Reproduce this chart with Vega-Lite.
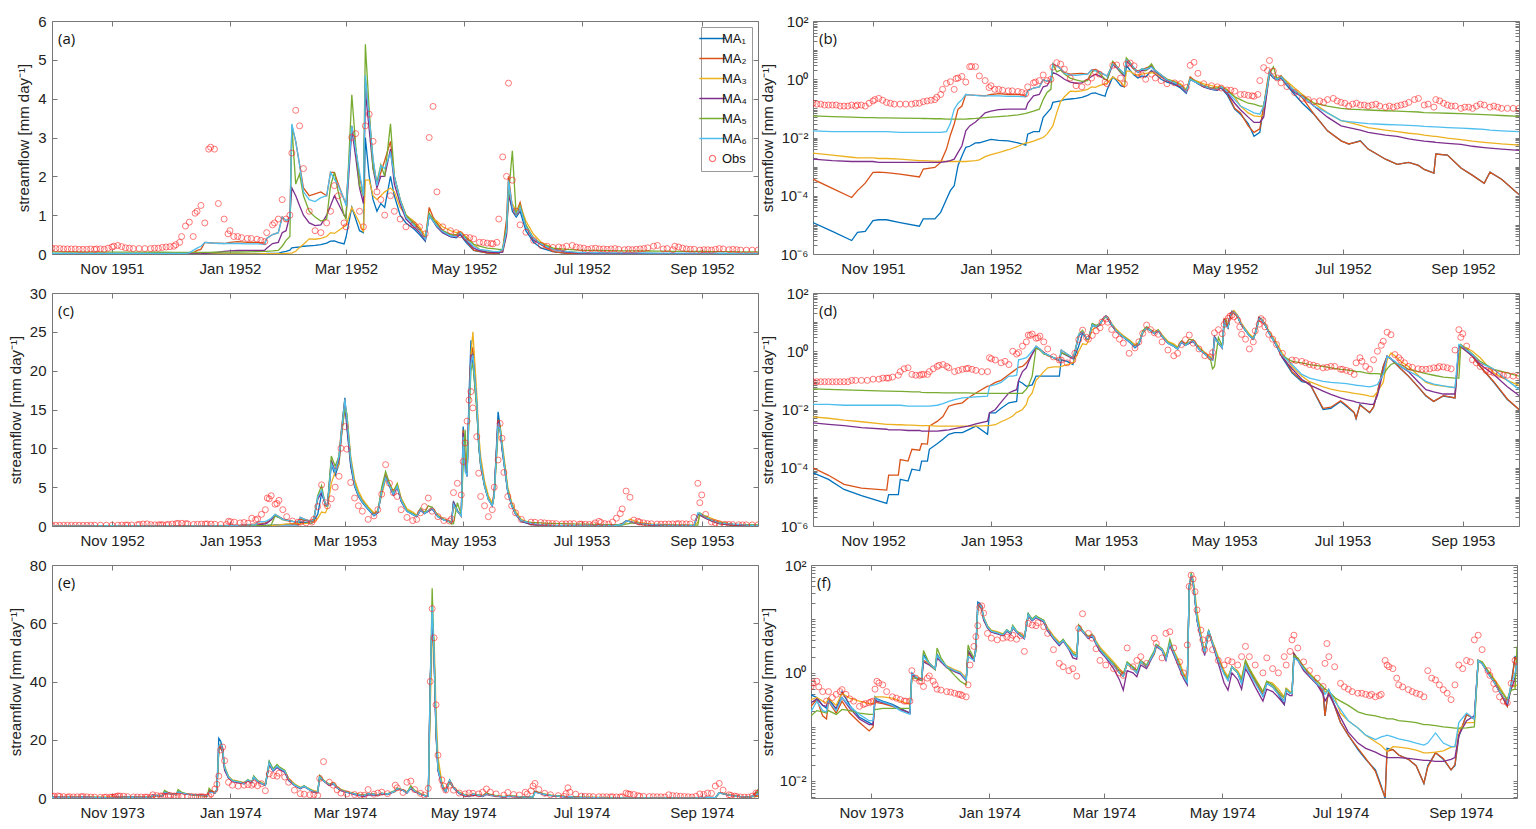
{
"$schema":"https://vega.github.io/schema/vega-lite/v6.json",
"background":"white",
"padding":{"left":8,"top":14,"right":5,"bottom":5},
"spacing":10,
"resolve":{"scale":{"color":"independent"}},
"datasets":{
"A":[
{"t":"1951-10-01","m1":1.2e-5,"m2":3.7e-4,"m3":0.0029,"m4":0.0018,"m5":0.055,"m6":0.017,"o":0.15},
{"t":"1951-10-11","m1":6e-6,"m2":1.8e-4,"m3":0.0025,"m4":0.0016,"m5":0.052,"m6":0.016,"o":0.13},
{"t":"1951-10-21","m1":2.9e-6,"m2":8.7e-5,"m3":0.0021,"m4":0.0015,"m5":0.05,"m6":0.016,"o":0.13},
{"t":"1951-10-24","m1":5.5e-6,"m2":1.5e-4,"m3":0.002,"m4":0.0015,"m5":0.049,"m6":0.016,"o":0.13},
{"t":"1951-10-28","m1":6e-6,"m2":2.7e-4,"m3":0.002,"m4":0.0015,"m5":0.048,"m6":0.016,"o":0.12},
{"t":"1951-11-01","m1":1.4e-5,"m2":6.4e-4,"m3":0.002,"m4":0.0015,"m5":0.048,"m6":0.016,"o":0.18},
{"t":"1951-11-04","m1":1.5e-5,"m2":6.5e-4,"m3":0.0019,"m4":0.0014,"m5":0.047,"m6":0.016,"o":0.22},
{"t":"1951-11-08","m1":1.5e-5,"m2":6.2e-4,"m3":0.0019,"m4":0.0014,"m5":0.047,"m6":0.016,"o":0.16},
{"t":"1951-11-15","m1":1.2e-5,"m2":5.5e-4,"m3":0.0018,"m4":0.0014,"m5":0.046,"m6":0.015,"o":0.14},
{"t":"1951-11-25","m1":9e-6,"m2":4.4e-4,"m3":0.0016,"m4":0.0014,"m5":0.045,"m6":0.015,"o":0.15},
{"t":"1951-11-27","m1":1.6e-5,"m2":8.3e-4,"m3":0.0016,"m4":0.0014,"m5":0.045,"m6":0.015,"o":0.17},
{"t":"1951-12-03","m1":1.6e-5,"m2":9.4e-4,"m3":0.00155,"m4":0.0014,"m5":0.044,"m6":0.015,"o":0.2},
{"t":"1951-12-06","m1":2.7e-5,"m2":0.0014,"m3":0.00155,"m4":0.0014,"m5":0.044,"m6":0.015,"o":0.3},
{"t":"1951-12-09","m1":7.6e-5,"m2":0.004,"m3":0.0015,"m4":0.0015,"m5":0.043,"m6":0.016,"o":0.72},
{"t":"1951-12-11","m1":1.5e-4,"m2":0.012,"m3":0.0015,"m4":0.0016,"m5":0.043,"m6":0.03,"o":0.82},
{"t":"1951-12-13","m1":2.2e-4,"m2":0.029,"m3":0.0015,"m4":0.0018,"m5":0.043,"m6":0.094,"o":0.45},
{"t":"1951-12-15","m1":0.0011,"m2":0.094,"m3":0.0015,"m4":0.0031,"m5":0.043,"m6":0.15,"o":1.1},
{"t":"1951-12-17","m1":0.0023,"m2":0.12,"m3":0.0015,"m4":0.0052,"m5":0.043,"m6":0.2,"o":1.25},
{"t":"1951-12-19","m1":0.0046,"m2":0.3,"m3":0.0015,"m4":0.017,"m5":0.043,"m6":0.3,"o":0.8},
{"t":"1951-12-21","m1":0.005,"m2":0.29,"m3":0.00155,"m4":0.025,"m5":0.044,"m6":0.29,"o":2.7},
{"t":"1951-12-24","m1":0.0065,"m2":0.28,"m3":0.0016,"m4":0.034,"m5":0.045,"m6":0.28,"o":2.7},
{"t":"1951-12-26","m1":0.0066,"m2":0.28,"m3":0.0017,"m4":0.045,"m5":0.046,"m6":0.27,"o":1.3},
{"t":"1951-12-29","m1":0.0075,"m2":0.27,"m3":0.0022,"m4":0.07,"m5":0.048,"m6":0.27,"o":0.9},
{"t":"1952-01-01","m1":0.0086,"m2":0.3,"m3":0.0026,"m4":0.08,"m5":0.05,"m6":0.27,"o":0.6},
{"t":"1952-01-05","m1":0.008,"m2":0.32,"m3":0.003,"m4":0.09,"m5":0.052,"m6":0.27,"o":0.45},
{"t":"1952-01-10","m1":0.0077,"m2":0.3,"m3":0.0038,"m4":0.094,"m5":0.055,"m6":0.26,"o":0.4},
{"t":"1952-01-15","m1":0.0065,"m2":0.3,"m3":0.005,"m4":0.094,"m5":0.06,"m6":0.26,"o":0.38},
{"t":"1952-01-19","m1":0.0055,"m2":0.28,"m3":0.0065,"m4":0.095,"m5":0.067,"m6":0.25,"o":0.32},
{"t":"1952-01-20","m1":0.013,"m2":0.4,"m3":0.0066,"m4":0.15,"m5":0.07,"m6":0.4,"o":0.55},
{"t":"1952-01-23","m1":0.016,"m2":0.5,"m3":0.0075,"m4":0.27,"m5":0.08,"m6":0.5,"o":0.75},
{"t":"1952-01-26","m1":0.016,"m2":0.55,"m3":0.009,"m4":0.3,"m5":0.094,"m6":0.55,"o":0.9},
{"t":"1952-01-28","m1":0.049,"m2":0.95,"m3":0.01,"m4":0.55,"m5":0.2,"m6":0.95,"o":1.4},
{"t":"1952-01-30","m1":0.07,"m2":0.85,"m3":0.013,"m4":0.6,"m5":0.35,"m6":0.86,"o":0.9},
{"t":"1952-02-01","m1":0.1,"m2":0.95,"m3":0.02,"m4":1.0,"m5":0.45,"m6":0.9,"o":1.0},
{"t":"1952-02-02","m1":0.16,"m2":3.3,"m3":0.025,"m4":1.7,"m5":3.3,"m6":3.35,"o":2.6},
{"t":"1952-02-04","m1":0.17,"m2":2.9,"m3":0.07,"m4":1.5,"m5":1.8,"m6":2.9,"o":3.7},
{"t":"1952-02-06","m1":0.18,"m2":2.3,"m3":0.17,"m4":1.24,"m5":2.06,"m6":2.3,"o":3.3},
{"t":"1952-02-08","m1":0.2,"m2":1.7,"m3":0.25,"m4":1.0,"m5":1.5,"m6":1.6,"o":2.2},
{"t":"1952-02-11","m1":0.21,"m2":1.5,"m3":0.39,"m4":0.8,"m5":1.1,"m6":1.4,"o":1.1},
{"t":"1952-02-14","m1":0.22,"m2":1.55,"m3":0.38,"m4":0.73,"m5":0.95,"m6":1.35,"o":0.6},
{"t":"1952-02-17","m1":0.24,"m2":1.6,"m3":0.4,"m4":0.75,"m5":0.85,"m6":1.45,"o":0.55},
{"t":"1952-02-20","m1":0.28,"m2":1.5,"m3":0.45,"m4":1.0,"m5":0.9,"m6":1.5,"o":0.8},
{"t":"1952-02-22","m1":0.33,"m2":2.1,"m3":0.55,"m4":1.24,"m5":1.76,"m6":2.1,"o":1.1},
{"t":"1952-02-24","m1":0.34,"m2":2.1,"m3":0.53,"m4":1.5,"m5":2.1,"m6":1.93,"o":1.76},
{"t":"1952-02-26","m1":0.3,"m2":1.8,"m3":0.6,"m4":1.3,"m5":1.6,"m6":1.76,"o":1.5},
{"t":"1952-02-29","m1":0.26,"m2":1.4,"m3":0.7,"m4":1.0,"m5":1.0,"m6":1.42,"o":0.8},
{"t":"1952-03-01","m1":0.43,"m2":1.3,"m3":0.73,"m4":0.95,"m5":0.9,"m6":1.24,"o":0.7},
{"t":"1952-03-04","m1":1.2,"m2":3.3,"m3":1.2,"m4":3.2,"m5":4.1,"m6":3.3,"o":3.0},
{"t":"1952-03-06","m1":0.9,"m2":2.7,"m3":1.0,"m4":2.5,"m5":2.8,"m6":2.7,"o":3.1},
{"t":"1952-03-08","m1":0.6,"m2":2.0,"m3":0.8,"m4":1.7,"m5":1.76,"m6":2.1,"o":1.1},
{"t":"1952-03-10","m1":0.55,"m2":1.5,"m3":0.56,"m4":1.3,"m5":1.5,"m6":1.5,"o":0.7},
{"t":"1952-03-11","m1":3.0,"m2":4.5,"m3":1.9,"m4":4.2,"m5":5.4,"m6":4.6,"o":3.3},
{"t":"1952-03-13","m1":2.0,"m2":3.56,"m3":1.9,"m4":3.2,"m5":3.7,"m6":3.5,"o":3.6},
{"t":"1952-03-15","m1":1.4,"m2":2.4,"m3":1.5,"m4":2.2,"m5":2.2,"m6":2.45,"o":2.9},
{"t":"1952-03-17","m1":1.1,"m2":1.8,"m3":1.4,"m4":1.7,"m5":1.85,"m6":1.76,"o":1.6},
{"t":"1952-03-19","m1":1.3,"m2":2.1,"m3":1.5,"m4":2.0,"m5":2.3,"m6":2.27,"o":1.4},
{"t":"1952-03-21","m1":1.2,"m2":2.4,"m3":1.6,"m4":2.0,"m5":2.0,"m6":2.2,"o":1.0},
{"t":"1952-03-24","m1":2.0,"m2":2.9,"m3":1.7,"m4":2.7,"m5":3.35,"m6":2.6,"o":1.5},
{"t":"1952-03-26","m1":1.5,"m2":2.0,"m3":1.6,"m4":1.8,"m5":2.0,"m6":2.0,"o":1.1},
{"t":"1952-03-29","m1":1.0,"m2":1.4,"m3":1.2,"m4":1.3,"m5":1.4,"m6":1.4,"o":0.9},
{"t":"1952-04-01","m1":0.8,"m2":1.0,"m3":1.0,"m4":0.9,"m5":1.0,"m6":0.95,"o":0.7},
{"t":"1952-04-05","m1":0.65,"m2":0.8,"m3":0.85,"m4":0.7,"m5":0.8,"m6":0.75,"o":0.75},
{"t":"1952-04-08","m1":0.5,"m2":0.65,"m3":0.7,"m4":0.55,"m5":0.6,"m6":0.6,"o":0.7},
{"t":"1952-04-11","m1":0.33,"m2":0.38,"m3":0.45,"m4":0.35,"m5":0.4,"m6":0.38,"o":0.52},
{"t":"1952-04-13","m1":1.0,"m2":1.2,"m3":1.0,"m4":1.0,"m5":1.05,"m6":1.0,"o":3.0},
{"t":"1952-04-15","m1":0.85,"m2":0.95,"m3":0.9,"m4":0.85,"m5":0.9,"m6":0.85,"o":3.8},
{"t":"1952-04-17","m1":0.7,"m2":0.8,"m3":0.85,"m4":0.7,"m5":0.75,"m6":0.72,"o":1.6},
{"t":"1952-04-20","m1":0.55,"m2":0.6,"m3":0.7,"m4":0.55,"m5":0.6,"m6":0.58,"o":0.7},
{"t":"1952-04-24","m1":0.45,"m2":0.5,"m3":0.6,"m4":0.45,"m5":0.5,"m6":0.47,"o":0.6},
{"t":"1952-04-27","m1":0.42,"m2":0.45,"m3":0.55,"m4":0.43,"m5":0.5,"m6":0.45,"o":0.55},
{"t":"1952-04-29","m1":0.5,"m2":0.55,"m3":0.58,"m4":0.52,"m5":0.55,"m6":0.55,"o":0.5},
{"t":"1952-05-02","m1":0.3,"m2":0.35,"m3":0.45,"m4":0.35,"m5":0.42,"m6":0.38,"o":0.43},
{"t":"1952-05-06","m1":0.095,"m2":0.1,"m3":0.25,"m4":0.15,"m5":0.25,"m6":0.2,"o":0.39},
{"t":"1952-05-09","m1":0.063,"m2":0.07,"m3":0.12,"m4":0.09,"m5":0.2,"m6":0.12,"o":0.3},
{"t":"1952-05-13","m1":0.03,"m2":0.025,"m3":0.07,"m4":0.05,"m5":0.15,"m6":0.09,"o":0.28},
{"t":"1952-05-16","m1":0.011,"m2":0.015,"m3":0.055,"m4":0.033,"m5":0.14,"m6":0.07,"o":0.26},
{"t":"1952-05-19","m1":0.015,"m2":0.02,"m3":0.052,"m4":0.033,"m5":0.12,"m6":0.063,"o":0.9},
{"t":"1952-05-21","m1":0.12,"m2":0.12,"m3":0.06,"m4":0.05,"m5":0.12,"m6":0.12,"o":2.5},
{"t":"1952-05-23","m1":0.6,"m2":0.9,"m3":0.5,"m4":0.5,"m5":0.7,"m6":0.6,"o":2.0},
{"t":"1952-05-24","m1":1.6,"m2":2.0,"m3":1.5,"m4":1.5,"m5":1.5,"m6":1.9,"o":4.4},
{"t":"1952-05-26","m1":1.1,"m2":1.2,"m3":1.3,"m4":1.2,"m5":2.66,"m6":1.2,"o":1.9},
{"t":"1952-05-28","m1":0.95,"m2":1.07,"m3":1.1,"m4":1.0,"m5":1.0,"m6":1.0,"o":1.1},
{"t":"1952-05-30","m1":1.1,"m2":1.33,"m3":1.25,"m4":1.2,"m5":1.25,"m6":1.2,"o":0.75},
{"t":"1952-06-02","m1":0.6,"m2":0.73,"m3":0.85,"m4":0.7,"m5":0.75,"m6":0.7,"o":0.56},
{"t":"1952-06-06","m1":0.3,"m2":0.4,"m3":0.5,"m4":0.35,"m5":0.4,"m6":0.4,"o":0.35},
{"t":"1952-06-10","m1":0.15,"m2":0.23,"m3":0.3,"m4":0.25,"m5":0.27,"m6":0.25,"o":0.22},
{"t":"1952-06-16","m1":0.063,"m2":0.063,"m3":0.15,"m4":0.12,"m5":0.15,"m6":0.12,"o":0.17},
{"t":"1952-06-23","m1":0.017,"m2":0.017,"m3":0.07,"m4":0.05,"m5":0.12,"m6":0.07,"o":0.2},
{"t":"1952-06-30","m1":0.0077,"m2":0.0077,"m3":0.038,"m4":0.025,"m5":0.1,"m6":0.038,"o":0.16},
{"t":"1952-07-04","m1":0.0059,"m2":0.006,"m3":0.033,"m4":0.022,"m5":0.095,"m6":0.035,"o":0.12},
{"t":"1952-07-10","m1":0.0077,"m2":0.0075,"m3":0.026,"m4":0.018,"m5":0.09,"m6":0.032,"o":0.13},
{"t":"1952-07-14","m1":0.004,"m2":0.004,"m3":0.022,"m4":0.015,"m5":0.088,"m6":0.03,"o":0.12},
{"t":"1952-07-23","m1":0.0018,"m2":0.0018,"m3":0.018,"m4":0.012,"m5":0.083,"m6":0.028,"o":0.11},
{"t":"1952-07-29","m1":0.0012,"m2":0.0012,"m3":0.016,"m4":0.011,"m5":0.08,"m6":0.027,"o":0.12},
{"t":"1952-08-04","m1":0.0014,"m2":0.0014,"m3":0.014,"m4":0.009,"m5":0.077,"m6":0.026,"o":0.16},
{"t":"1952-08-09","m1":0.0011,"m2":0.0011,"m3":0.013,"m4":0.008,"m5":0.075,"m6":0.025,"o":0.22},
{"t":"1952-08-12","m1":0.0008,"m2":0.0008,"m3":0.012,"m4":0.0075,"m5":0.072,"m6":0.024,"o":0.13},
{"t":"1952-08-17","m1":0.0006,"m2":0.0006,"m3":0.011,"m4":0.007,"m5":0.07,"m6":0.023,"o":0.11},
{"t":"1952-08-18","m1":0.0027,"m2":0.0027,"m3":0.011,"m4":0.0068,"m5":0.07,"m6":0.023,"o":0.2},
{"t":"1952-08-24","m1":0.0025,"m2":0.0025,"m3":0.0095,"m4":0.0063,"m5":0.068,"m6":0.022,"o":0.13},
{"t":"1952-08-31","m1":0.0009,"m2":0.0009,"m3":0.0085,"m4":0.0058,"m5":0.066,"m6":0.021,"o":0.1},
{"t":"1952-09-06","m1":0.0005,"m2":0.0005,"m3":0.0075,"m4":0.005,"m5":0.063,"m6":0.02,"o":0.1},
{"t":"1952-09-12","m1":0.00027,"m2":0.00027,"m3":0.0068,"m4":0.0045,"m5":0.061,"m6":0.019,"o":0.13},
{"t":"1952-09-15","m1":0.00064,"m2":0.00064,"m3":0.0065,"m4":0.0043,"m5":0.06,"m6":0.018,"o":0.11},
{"t":"1952-09-21","m1":0.00037,"m2":0.00037,"m3":0.006,"m4":0.004,"m5":0.057,"m6":0.017,"o":0.1},
{"t":"1952-09-30","m1":0.00011,"m2":0.00011,"m3":0.0055,"m4":0.0036,"m5":0.053,"m6":0.016,"o":0.1},
{"t":"1951-10-03","o":0.14},{"t":"1951-10-05","o":0.14},{"t":"1951-10-07","o":0.13},{"t":"1951-10-09","o":0.13},{"t":"1951-10-13","o":0.13},{"t":"1951-10-15","o":0.12},{"t":"1951-10-17","o":0.12},{"t":"1951-10-19","o":0.12},{"t":"1951-10-23","o":0.12},{"t":"1951-10-26","o":0.13},{"t":"1951-10-30","o":0.15},{"t":"1951-11-02","o":0.2},{"t":"1951-11-06","o":0.19},{"t":"1951-11-10","o":0.15},{"t":"1951-11-12","o":0.14},{"t":"1951-11-18","o":0.14},{"t":"1951-11-21","o":0.14},{"t":"1951-11-23","o":0.15},{"t":"1951-11-29","o":0.18},{"t":"1951-12-01","o":0.19},{"t":"1951-12-04","o":0.24},{"t":"1951-12-07","o":0.45},{"t":"1951-12-14","o":1.05},{"t":"1951-12-22","o":2.75},{"t":"1951-12-31","o":0.52},{"t":"1952-01-03","o":0.45},{"t":"1952-01-07","o":0.42},{"t":"1952-01-12","o":0.4},{"t":"1952-01-17","o":0.35},{"t":"1952-01-24","o":0.8},
{"t":"1952-05-04","o":0.42},{"t":"1952-05-11","o":0.3},{"t":"1952-05-15","o":0.27},{"t":"1952-05-18","o":0.3},
{"t":"1952-06-13","o":0.2},{"t":"1952-06-19","o":0.18},{"t":"1952-06-21","o":0.16},{"t":"1952-06-26","o":0.22},{"t":"1952-06-28","o":0.18},{"t":"1952-07-02","o":0.15},{"t":"1952-07-06","o":0.14},{"t":"1952-07-08","o":0.15},{"t":"1952-07-12","o":0.13},{"t":"1952-07-16","o":0.13},{"t":"1952-07-18","o":0.14},{"t":"1952-07-20","o":0.12},{"t":"1952-07-25","o":0.12},{"t":"1952-07-27","o":0.11},{"t":"1952-07-31","o":0.13},{"t":"1952-08-02","o":0.14},{"t":"1952-08-07","o":0.2},{"t":"1952-08-14","o":0.14},{"t":"1952-08-20","o":0.18},{"t":"1952-08-22","o":0.15},{"t":"1952-08-26","o":0.12},{"t":"1952-08-28","o":0.12},{"t":"1952-09-02","o":0.11},{"t":"1952-09-04","o":0.11},{"t":"1952-09-08","o":0.12},{"t":"1952-09-10","o":0.14},{"t":"1952-09-17","o":0.12},{"t":"1952-09-19","o":0.11},{"t":"1952-09-24","o":0.1},{"t":"1952-09-27","o":0.1}
],
"B":[
{"t":"1952-10-01","m1":6.7e-5,"m2":1e-4,"m3":0.0056,"m4":0.0035,"m5":0.051,"m6":0.015,"o":0.09},
{"t":"1952-10-09","m1":4e-5,"m2":5.5e-5,"m3":0.005,"m4":0.0031,"m5":0.049,"m6":0.015,"o":0.09},
{"t":"1952-10-17","m1":1.8e-5,"m2":2.7e-5,"m3":0.0043,"m4":0.0028,"m5":0.047,"m6":0.014,"o":0.09},
{"t":"1952-10-26","m1":1.1e-5,"m2":2e-5,"m3":0.0038,"m4":0.0024,"m5":0.045,"m6":0.014,"o":0.1},
{"t":"1952-11-08","m1":6e-6,"m2":1.7e-5,"m3":0.0031,"m4":0.0021,"m5":0.043,"m6":0.014,"o":0.12},
{"t":"1952-11-09","m1":1.2e-5,"m2":5.6e-5,"m3":0.0031,"m4":0.002,"m5":0.043,"m6":0.014,"o":0.12},
{"t":"1952-11-14","m1":1.2e-5,"m2":5.6e-5,"m3":0.003,"m4":0.002,"m5":0.042,"m6":0.014,"o":0.15},
{"t":"1952-11-15","m1":4e-5,"m2":1.9e-4,"m3":0.003,"m4":0.002,"m5":0.042,"m6":0.014,"o":0.2},
{"t":"1952-11-19","m1":3.5e-5,"m2":1.7e-4,"m3":0.0029,"m4":0.0019,"m5":0.041,"m6":0.013,"o":0.27},
{"t":"1952-11-21","m1":8.9e-5,"m2":4.3e-4,"m3":0.0029,"m4":0.0019,"m5":0.04,"m6":0.013,"o":0.16},
{"t":"1952-11-25","m1":8e-5,"m2":4e-4,"m3":0.0028,"m4":0.0019,"m5":0.04,"m6":0.013,"o":0.15},
{"t":"1952-11-26","m1":1.7e-4,"m2":6.7e-4,"m3":0.0028,"m4":0.0018,"m5":0.039,"m6":0.013,"o":0.16},
{"t":"1952-11-29","m1":1.7e-4,"m2":6.5e-4,"m3":0.0028,"m4":0.0018,"m5":0.038,"m6":0.013,"o":0.16},
{"t":"1952-11-30","m1":4.3e-4,"m2":0.0027,"m3":0.0028,"m4":0.0018,"m5":0.038,"m6":0.013,"o":0.2},
{"t":"1952-12-04","m1":6.7e-4,"m2":0.0039,"m3":0.0027,"m4":0.0018,"m5":0.038,"m6":0.014,"o":0.3},
{"t":"1952-12-07","m1":9.5e-4,"m2":0.0057,"m3":0.0027,"m4":0.0019,"m5":0.037,"m6":0.016,"o":0.35},
{"t":"1952-12-10","m1":0.0014,"m2":0.013,"m3":0.0027,"m4":0.002,"m5":0.037,"m6":0.019,"o":0.27},
{"t":"1952-12-13","m1":0.0016,"m2":0.015,"m3":0.0027,"m4":0.0022,"m5":0.037,"m6":0.022,"o":0.2},
{"t":"1952-12-17","m1":0.0016,"m2":0.017,"m3":0.0027,"m4":0.0025,"m5":0.037,"m6":0.025,"o":0.24},
{"t":"1952-12-20","m1":0.002,"m2":0.025,"m3":0.0027,"m4":0.0027,"m5":0.037,"m6":0.026,"o":0.26},
{"t":"1952-12-24","m1":0.0027,"m2":0.037,"m3":0.0027,"m4":0.0032,"m5":0.036,"m6":0.027,"o":0.22},
{"t":"1952-12-30","m1":0.0014,"m2":0.063,"m3":0.0028,"m4":0.004,"m5":0.036,"m6":0.029,"o":0.2},
{"t":"1952-12-31","m1":0.0076,"m2":0.065,"m3":0.0028,"m4":0.0076,"m5":0.036,"m6":0.063,"o":0.6},
{"t":"1953-01-03","m1":0.0076,"m2":0.085,"m3":0.003,"m4":0.01,"m5":0.036,"m6":0.072,"o":0.5},
{"t":"1953-01-06","m1":0.011,"m2":0.1,"m3":0.0038,"m4":0.018,"m5":0.036,"m6":0.085,"o":0.4},
{"t":"1953-01-10","m1":0.017,"m2":0.16,"m3":0.005,"m4":0.037,"m5":0.036,"m6":0.14,"o":0.35},
{"t":"1953-01-12","m1":0.018,"m2":0.2,"m3":0.006,"m4":0.043,"m5":0.036,"m6":0.14,"o":1.0},
{"t":"1953-01-14","m1":0.019,"m2":0.25,"m3":0.008,"m4":0.048,"m5":0.036,"m6":0.15,"o":0.8},
{"t":"1953-01-15","m1":0.095,"m2":0.28,"m3":0.0085,"m4":0.1,"m5":0.036,"m6":0.51,"o":0.9},
{"t":"1953-01-17","m1":0.08,"m2":0.3,"m3":0.01,"m4":0.2,"m5":0.036,"m6":0.55,"o":1.5},
{"t":"1953-01-19","m1":0.063,"m2":0.4,"m3":0.015,"m4":0.27,"m5":0.05,"m6":0.6,"o":2.1},
{"t":"1953-01-20","m1":0.065,"m2":0.5,"m3":0.025,"m4":0.4,"m5":0.063,"m6":0.7,"o":3.6},
{"t":"1953-01-22","m1":0.07,"m2":0.8,"m3":0.037,"m4":0.8,"m5":0.14,"m6":1.0,"o":3.9},
{"t":"1953-01-24","m1":0.14,"m2":1.5,"m3":0.1,"m4":1.3,"m5":1.3,"m6":1.5,"o":2.8},
{"t":"1953-01-26","m1":0.14,"m2":1.2,"m3":0.14,"m4":1.1,"m5":1.1,"m6":1.2,"o":3.3},
{"t":"1953-01-28","m1":0.14,"m2":0.9,"m3":0.2,"m4":0.9,"m5":0.8,"m6":0.85,"o":2.1},
{"t":"1953-01-30","m1":0.14,"m2":0.7,"m3":0.27,"m4":0.75,"m5":0.75,"m6":0.77,"o":1.2},
{"t":"1953-02-02","m1":0.14,"m2":0.6,"m3":0.29,"m4":0.6,"m5":0.6,"m6":0.6,"o":0.64},
{"t":"1953-02-05","m1":0.14,"m2":0.48,"m3":0.29,"m4":0.48,"m5":0.5,"m6":0.5,"o":0.5},
{"t":"1953-02-06","m1":0.51,"m2":1.1,"m3":0.3,"m4":0.9,"m5":0.9,"m6":1.1,"o":0.5},
{"t":"1953-02-09","m1":0.45,"m2":0.8,"m3":0.35,"m4":0.7,"m5":0.75,"m6":0.8,"o":0.4},
{"t":"1953-02-12","m1":0.35,"m2":0.6,"m3":0.4,"m4":0.55,"m5":0.6,"m6":0.6,"o":0.5},
{"t":"1953-02-13","m1":0.67,"m2":1.0,"m3":0.51,"m4":0.85,"m5":0.85,"m6":0.9,"o":0.85},
{"t":"1953-02-15","m1":1.5,"m2":3.5,"m3":1.0,"m4":3.5,"m5":3.9,"m6":3.7,"o":2.5},
{"t":"1953-02-17","m1":4.2,"m2":4.5,"m3":1.8,"m4":4.3,"m5":5.2,"m6":4.6,"o":5.3},
{"t":"1953-02-19","m1":2.8,"m2":2.8,"m3":1.7,"m4":2.7,"m5":2.6,"m6":2.8,"o":3.0},
{"t":"1953-02-20","m1":2.5,"m2":2.6,"m3":2.3,"m4":2.6,"m5":2.6,"m6":2.6,"o":2.6},
{"t":"1953-02-22","m1":8.0,"m2":8.0,"m3":5.5,"m4":8.5,"m5":9.0,"m6":8.0,"o":3.5},
{"t":"1953-02-24","m1":6.5,"m2":7.2,"m3":7.0,"m4":7.0,"m5":7.7,"m6":7.0,"o":5.0},
{"t":"1953-02-26","m1":8,"m2":9,"m3":8,"m4":8.5,"m5":9,"m6":9,"o":6.4},
{"t":"1953-02-27","m1":11.5,"m2":12,"m3":11,"m4":11,"m5":11.5,"m6":11.5,"o":10},
{"t":"1953-03-01","m1":16.5,"m2":16.3,"m3":15.5,"m4":16,"m5":15,"m6":16.3,"o":12.8},
{"t":"1953-03-02","m1":12.8,"m2":13.5,"m3":14.5,"m4":13,"m5":14.5,"m6":14,"o":9.9},
{"t":"1953-03-04","m1":7.7,"m2":8.5,"m3":9,"m4":8,"m5":8.5,"m6":8.5,"o":5.6},
{"t":"1953-03-06","m1":5.1,"m2":5.5,"m3":6,"m4":5.2,"m5":5.5,"m6":5.3,"o":3.6},
{"t":"1953-03-08","m1":3.8,"m2":4.1,"m3":4.5,"m4":3.9,"m5":4.0,"m6":4.0,"o":2.6},
{"t":"1953-03-10","m1":3.0,"m2":3.3,"m3":3.5,"m4":3.1,"m5":3.2,"m6":3.1,"o":1.9},
{"t":"1953-03-13","m1":2.1,"m2":2.3,"m3":2.5,"m4":2.2,"m5":2.3,"m6":2.2,"o":0.85},
{"t":"1953-03-16","m1":1.3,"m2":1.5,"m3":1.7,"m4":1.4,"m5":1.5,"m6":1.4,"o":1.3},
{"t":"1953-03-18","m1":1.7,"m2":1.9,"m3":2,"m4":1.8,"m5":1.9,"m6":1.8,"o":2.1},
{"t":"1953-03-20","m1":4.3,"m2":4.5,"m3":4.0,"m4":4.5,"m5":5.0,"m6":4.5,"o":4.1},
{"t":"1953-03-22","m1":6.2,"m2":6.5,"m3":6.0,"m4":6.3,"m5":7.0,"m6":6.2,"o":7.9},
{"t":"1953-03-24","m1":5.1,"m2":5.4,"m3":5.5,"m4":5.2,"m5":5.5,"m6":5.2,"o":5.5},
{"t":"1953-03-26","m1":4.0,"m2":4.2,"m3":4.5,"m4":4.0,"m5":4.3,"m6":4.1,"o":4.3},
{"t":"1953-03-28","m1":5.1,"m2":5.2,"m3":5.5,"m4":5.0,"m5":5.4,"m6":5.1,"o":3.8},
{"t":"1953-03-30","m1":3.2,"m2":3.5,"m3":3.6,"m4":3.2,"m5":3.4,"m6":3.3,"o":2.1},
{"t":"1953-04-02","m1":1.9,"m2":2.0,"m3":2.2,"m4":1.9,"m5":2.0,"m6":1.9,"o":1.1},
{"t":"1953-04-05","m1":1.5,"m2":1.6,"m3":1.8,"m4":1.5,"m5":1.6,"m6":1.5,"o":0.7},
{"t":"1953-04-07","m1":1.2,"m2":1.3,"m3":1.4,"m4":1.2,"m5":1.3,"m6":1.2,"o":0.85},
{"t":"1953-04-09","m1":2.1,"m2":2.2,"m3":2.1,"m4":2.0,"m5":2.3,"m6":2.1,"o":1.7},
{"t":"1953-04-11","m1":1.6,"m2":1.7,"m3":1.8,"m4":1.6,"m5":1.7,"m6":1.6,"o":2.5},
{"t":"1953-04-13","m1":1.9,"m2":2.0,"m3":2.0,"m4":1.9,"m5":2.6,"m6":2.0,"o":3.6},
{"t":"1953-04-15","m1":2.2,"m2":2.4,"m3":2.4,"m4":2.2,"m5":2.4,"m6":2.3,"o":1.9},
{"t":"1953-04-18","m1":1.2,"m2":1.3,"m3":1.4,"m4":1.2,"m5":1.3,"m6":1.2,"o":1.2},
{"t":"1953-04-21","m1":0.8,"m2":0.85,"m3":0.9,"m4":0.8,"m5":0.85,"m6":0.8,"o":0.7},
{"t":"1953-04-24","m1":0.55,"m2":0.6,"m3":0.65,"m4":0.55,"m5":0.5,"m6":0.55,"o":0.64},
{"t":"1953-04-25","m1":0.5,"m2":0.55,"m3":0.6,"m4":0.5,"m5":0.25,"m6":0.5,"o":0.9},
{"t":"1953-04-26","m1":3.2,"m2":3.0,"m3":2.5,"m4":3.0,"m5":0.3,"m6":2.8,"o":4.3},
{"t":"1953-04-28","m1":2.0,"m2":1.9,"m3":1.9,"m4":1.9,"m5":3.0,"m6":1.9,"o":5.5},
{"t":"1953-04-30","m1":1.3,"m2":1.3,"m3":1.3,"m4":1.3,"m5":1.5,"m6":1.3,"o":4.0},
{"t":"1953-05-01","m1":12.8,"m2":12.4,"m3":10,"m4":12,"m5":8,"m6":11.5,"o":8.3},
{"t":"1953-05-02","m1":8,"m2":9,"m3":9,"m4":8,"m5":12.4,"m6":7,"o":10.7},
{"t":"1953-05-03","m1":6.4,"m2":6.4,"m3":7,"m4":6.4,"m5":7,"m6":6.4,"o":13.5},
{"t":"1953-05-04","m1":16.7,"m2":16,"m3":14,"m4":16,"m5":14,"m6":15,"o":16.2},
{"t":"1953-05-05","m1":23.9,"m2":22,"m3":22,"m4":22,"m5":20,"m6":21,"o":17.3},
{"t":"1953-05-06","m1":21,"m2":23,"m3":25,"m4":22,"m5":21,"m6":22,"o":15.2},
{"t":"1953-05-08","m1":15.4,"m2":16,"m3":17,"m4":15.5,"m5":15,"m6":16,"o":11.5},
{"t":"1953-05-09","m1":10.3,"m2":11,"m3":12,"m4":10.5,"m5":10.5,"m6":11,"o":6.8},
{"t":"1953-05-10","m1":7.7,"m2":8,"m3":9,"m4":8,"m5":8,"m6":8,"o":3.8},
{"t":"1953-05-12","m1":5.1,"m2":5.3,"m3":5.8,"m4":5.2,"m5":5.3,"m6":5.2,"o":2.6},
{"t":"1953-05-14","m1":3.4,"m2":3.5,"m3":3.9,"m4":3.4,"m5":3.5,"m6":3.4,"o":1.2},
{"t":"1953-05-16","m1":2.6,"m2":2.7,"m3":3.0,"m4":2.6,"m5":2.7,"m6":2.6,"o":2.1},
{"t":"1953-05-17","m1":4.0,"m2":4.5,"m3":4.0,"m4":4.2,"m5":3.8,"m6":4.0,"o":5.0},
{"t":"1953-05-19","m1":14.7,"m2":13.7,"m3":12,"m4":13.5,"m5":12.5,"m6":13.2,"o":8.5},
{"t":"1953-05-20","m1":12.8,"m2":12.8,"m3":13,"m4":12.5,"m5":12.8,"m6":12.5,"o":13.2},
{"t":"1953-05-21","m1":10,"m2":10.5,"m3":11,"m4":10,"m5":10.5,"m6":10.5,"o":11.3},
{"t":"1953-05-22","m1":8.1,"m2":8.5,"m3":9,"m4":8.2,"m5":8.5,"m6":8.3,"o":6.9},
{"t":"1953-05-24","m1":4.3,"m2":4.6,"m3":5,"m4":4.4,"m5":4.6,"m6":4.5,"o":3.8},
{"t":"1953-05-26","m1":2.6,"m2":2.8,"m3":3.1,"m4":2.7,"m5":2.8,"m6":2.7,"o":2.6},
{"t":"1953-05-28","m1":1.5,"m2":1.6,"m3":1.9,"m4":1.6,"m5":1.7,"m6":1.6,"o":1.7},
{"t":"1953-05-31","m1":0.6,"m2":0.7,"m3":0.85,"m4":0.6,"m5":0.7,"m6":0.7,"o":0.85},
{"t":"1953-06-05","m1":0.18,"m2":0.2,"m3":0.3,"m4":0.25,"m5":0.45,"m6":0.35,"o":0.5},
{"t":"1953-06-10","m1":0.09,"m2":0.1,"m3":0.14,"m4":0.11,"m5":0.4,"m6":0.16,"o":0.45},
{"t":"1953-06-14","m1":0.08,"m2":0.08,"m3":0.09,"m4":0.07,"m5":0.35,"m6":0.12,"o":0.35},
{"t":"1953-06-21","m1":0.01,"m2":0.011,"m3":0.06,"m4":0.043,"m5":0.3,"m6":0.093,"o":0.27},
{"t":"1953-06-25","m1":0.011,"m2":0.012,"m3":0.05,"m4":0.033,"m5":0.27,"m6":0.085,"o":0.3},
{"t":"1953-06-30","m1":0.019,"m2":0.02,"m3":0.043,"m4":0.025,"m5":0.24,"m6":0.08,"o":0.24},
{"t":"1953-07-03","m1":0.013,"m2":0.014,"m3":0.04,"m4":0.022,"m5":0.23,"m6":0.077,"o":0.22},
{"t":"1953-07-07","m1":0.0077,"m2":0.008,"m3":0.036,"m4":0.019,"m5":0.21,"m6":0.07,"o":0.16},
{"t":"1953-07-08","m1":0.0048,"m2":0.005,"m3":0.035,"m4":0.018,"m5":0.2,"m6":0.068,"o":0.4},
{"t":"1953-07-10","m1":0.015,"m2":0.014,"m3":0.034,"m4":0.017,"m5":0.2,"m6":0.066,"o":0.6},
{"t":"1953-07-13","m1":0.01,"m2":0.01,"m3":0.031,"m4":0.016,"m5":0.18,"m6":0.062,"o":0.3},
{"t":"1953-07-15","m1":0.0077,"m2":0.008,"m3":0.029,"m4":0.015,"m5":0.17,"m6":0.06,"o":0.24},
{"t":"1953-07-17","m1":0.012,"m2":0.012,"m3":0.028,"m4":0.015,"m5":0.17,"m6":0.065,"o":0.51},
{"t":"1953-07-19","m1":0.037,"m2":0.04,"m3":0.04,"m4":0.03,"m5":0.17,"m6":0.072,"o":1.0},
{"t":"1953-07-22","m1":0.3,"m2":0.3,"m3":0.085,"m4":0.2,"m5":0.16,"m6":0.16,"o":2.2},
{"t":"1953-07-24","m1":0.67,"m2":0.67,"m3":0.5,"m4":0.67,"m5":0.25,"m6":0.67,"o":4.5},
{"t":"1953-07-26","m1":0.55,"m2":0.55,"m3":0.88,"m4":0.55,"m5":0.35,"m6":0.55,"o":3.7},
{"t":"1953-07-28","m1":0.4,"m2":0.4,"m3":0.7,"m4":0.42,"m5":0.4,"m6":0.45,"o":0.77},
{"t":"1953-07-31","m1":0.25,"m2":0.25,"m3":0.45,"m4":0.3,"m5":0.35,"m6":0.3,"o":0.5},
{"t":"1953-08-04","m1":0.14,"m2":0.14,"m3":0.3,"m4":0.2,"m5":0.24,"m6":0.21,"o":0.3},
{"t":"1953-08-09","m1":0.06,"m2":0.06,"m3":0.15,"m4":0.09,"m5":0.2,"m6":0.14,"o":0.25},
{"t":"1953-08-13","m1":0.029,"m2":0.03,"m3":0.085,"m4":0.048,"m5":0.17,"m6":0.093,"o":0.24},
{"t":"1953-08-17","m1":0.019,"m2":0.019,"m3":0.07,"m4":0.04,"m5":0.15,"m6":0.075,"o":0.27},
{"t":"1953-08-22","m1":0.029,"m2":0.03,"m3":0.063,"m4":0.034,"m5":0.13,"m6":0.065,"o":0.29},
{"t":"1953-08-28","m1":0.025,"m2":0.025,"m3":0.056,"m4":0.034,"m5":0.12,"m6":0.056,"o":1.1},
{"t":"1953-08-30","m1":1.5,"m2":1.5,"m3":0.5,"m4":1.5,"m5":0.12,"m6":1.7,"o":5.5},
{"t":"1953-08-31","m1":1.4,"m2":1.4,"m3":1.5,"m4":1.5,"m5":1.7,"m6":1.6,"o":3.0},
{"t":"1953-09-03","m1":1.0,"m2":1.0,"m3":1.3,"m4":1.0,"m5":1.2,"m6":1.1,"o":1.5},
{"t":"1953-09-06","m1":0.67,"m2":0.67,"m3":1.0,"m4":0.7,"m5":0.8,"m6":0.77,"o":0.51},
{"t":"1953-09-10","m1":0.3,"m2":0.3,"m3":0.6,"m4":0.35,"m5":0.45,"m6":0.4,"o":0.3},
{"t":"1953-09-17","m1":0.085,"m2":0.09,"m3":0.18,"m4":0.16,"m5":0.24,"m6":0.24,"o":0.18},
{"t":"1953-09-24","m1":0.022,"m2":0.023,"m3":0.1,"m4":0.06,"m5":0.18,"m6":0.1,"o":0.15},
{"t":"1953-09-30","m1":0.01,"m2":0.01,"m3":0.067,"m4":0.03,"m5":0.14,"m6":0.049,"o":0.14},
{"t":"1952-10-03","o":0.09},{"t":"1952-10-05","o":0.09},{"t":"1952-10-07","o":0.09},{"t":"1952-10-11","o":0.09},{"t":"1952-10-13","o":0.09},{"t":"1952-10-15","o":0.09},{"t":"1952-10-19","o":0.09},{"t":"1952-10-21","o":0.1},{"t":"1952-10-23","o":0.1},{"t":"1952-10-29","o":0.1},{"t":"1952-11-01","o":0.11},{"t":"1952-11-04","o":0.11},{"t":"1952-11-06","o":0.12},{"t":"1952-11-11","o":0.13},{"t":"1952-11-17","o":0.25},{"t":"1952-11-23","o":0.15},{"t":"1952-11-27","o":0.16},{"t":"1952-12-02","o":0.25},{"t":"1952-12-05","o":0.33},{"t":"1952-12-09","o":0.3},{"t":"1952-12-15","o":0.22},{"t":"1952-12-19","o":0.25},{"t":"1952-12-22","o":0.24},{"t":"1952-12-27","o":0.2},{"t":"1953-01-01","o":0.55},{"t":"1953-01-08","o":0.45},{"t":"1953-01-21","o":3.5},{"t":"1953-01-25","o":2.9},
{"t":"1953-06-07","o":0.48},{"t":"1953-06-12","o":0.4},{"t":"1953-06-16","o":0.33},{"t":"1953-06-18","o":0.3},{"t":"1953-06-23","o":0.28},{"t":"1953-06-27","o":0.3},{"t":"1953-07-01","o":0.24},{"t":"1953-07-05","o":0.2},{"t":"1953-07-11","o":0.45},{"t":"1953-07-21","o":1.6},{"t":"1953-07-30","o":0.6},{"t":"1953-08-02","o":0.4},{"t":"1953-08-06","o":0.28},{"t":"1953-08-11","o":0.24},{"t":"1953-08-15","o":0.25},{"t":"1953-08-19","o":0.27},{"t":"1953-08-20","o":0.3},{"t":"1953-08-24","o":0.27},{"t":"1953-08-26","o":0.25},{"t":"1953-09-01","o":4.0},{"t":"1953-09-08","o":0.4},{"t":"1953-09-13","o":0.22},{"t":"1953-09-15","o":0.2},{"t":"1953-09-20","o":0.16},{"t":"1953-09-22","o":0.15},{"t":"1953-09-27","o":0.14}
],
"C":[
{"t":"1973-10-01","m1":0.39,"m2":0.24,"m3":0.32,"m4":0.28,"m5":0.16,"m6":0.19,"o":0.56},
{"t":"1973-10-04","m1":0.35,"m2":0.32,"m3":0.35,"m4":0.33,"m5":0.2,"m6":0.3,"o":0.7},
{"t":"1973-10-07","m1":0.25,"m2":0.16,"m3":0.3,"m4":0.25,"m5":0.19,"m6":0.2,"o":0.45},
{"t":"1973-10-09","m1":0.22,"m2":0.14,"m3":0.28,"m4":0.24,"m5":0.18,"m6":0.19,"o":0.3},
{"t":"1973-10-10","m1":0.34,"m2":0.3,"m3":0.34,"m4":0.3,"m5":0.2,"m6":0.3,"o":0.45},
{"t":"1973-10-14","m1":0.21,"m2":0.18,"m3":0.25,"m4":0.22,"m5":0.17,"m6":0.2,"o":0.4},
{"t":"1973-10-17","m1":0.45,"m2":0.3,"m3":0.42,"m4":0.35,"m5":0.21,"m6":0.35,"o":0.49},
{"t":"1973-10-21","m1":0.25,"m2":0.18,"m3":0.34,"m4":0.22,"m5":0.2,"m6":0.24,"o":0.33},
{"t":"1973-10-26","m1":0.15,"m2":0.12,"m3":0.3,"m4":0.14,"m5":0.18,"m6":0.17,"o":0.24},
{"t":"1973-10-31","m1":0.12,"m2":0.084,"m3":0.27,"m4":0.11,"m5":0.17,"m6":0.13,"o":0.28},
{"t":"1973-11-02","m1":0.11,"m2":0.1,"m3":0.27,"m4":0.11,"m5":0.17,"m6":0.13,"o":0.3},
{"t":"1973-11-03","m1":0.36,"m2":0.3,"m3":0.36,"m4":0.32,"m5":0.21,"m6":0.34,"o":0.5},
{"t":"1973-11-04","m1":0.33,"m2":0.28,"m3":0.36,"m4":0.3,"m5":0.21,"m6":0.32,"o":0.7},
{"t":"1973-11-07","m1":0.3,"m2":0.27,"m3":0.36,"m4":0.28,"m5":0.22,"m6":0.29,"o":0.6},
{"t":"1973-11-12","m1":0.26,"m2":0.24,"m3":0.34,"m4":0.25,"m5":0.22,"m6":0.25,"o":0.36},
{"t":"1973-11-16","m1":0.22,"m2":0.21,"m3":0.3,"m4":0.21,"m5":0.22,"m6":0.2,"o":0.32},
{"t":"1973-11-21","m1":0.18,"m2":0.18,"m3":0.26,"m4":0.18,"m5":0.22,"m6":0.17,"o":0.3},
{"t":"1973-11-22","m1":1.0,"m2":0.95,"m3":0.9,"m4":0.95,"m5":0.8,"m6":1.0,"o":1.1},
{"t":"1973-11-24","m1":0.85,"m2":0.85,"m3":0.85,"m4":0.8,"m5":0.8,"m6":0.85,"o":0.8},
{"t":"1973-11-27","m1":0.75,"m2":0.75,"m3":0.78,"m4":0.72,"m5":0.72,"m6":0.75,"o":0.7},
{"t":"1973-11-28","m1":2.2,"m2":1.7,"m3":1.6,"m4":1.6,"m5":2.6,"m6":2.0,"o":0.56},
{"t":"1973-12-01","m1":1.5,"m2":1.5,"m3":1.5,"m4":1.4,"m5":1.5,"m6":1.5,"o":0.88},
{"t":"1973-12-04","m1":1.2,"m2":1.2,"m3":1.2,"m4":1.15,"m5":1.15,"m6":1.2,"o":0.6},
{"t":"1973-12-05","m1":2.2,"m2":2.0,"m3":1.9,"m4":1.9,"m5":2.9,"m6":2.1,"o":0.5},
{"t":"1973-12-07","m1":1.7,"m2":1.6,"m3":1.7,"m4":1.6,"m5":1.9,"m6":1.7,"o":0.48},
{"t":"1973-12-10","m1":1.3,"m2":1.3,"m3":1.35,"m4":1.25,"m5":1.3,"m6":1.3,"o":0.45},
{"t":"1973-12-14","m1":1.1,"m2":1.1,"m3":1.15,"m4":1.05,"m5":0.9,"m6":1.1,"o":0.42},
{"t":"1973-12-17","m1":1.0,"m2":1.0,"m3":1.05,"m4":0.95,"m5":0.7,"m6":1.0,"o":0.4},
{"t":"1973-12-20","m1":0.75,"m2":0.75,"m3":0.8,"m4":0.72,"m5":0.6,"m6":0.75,"o":0.36},
{"t":"1973-12-21","m1":2.6,"m2":2.5,"m3":2.2,"m4":2.4,"m5":3.3,"m6":2.0,"o":0.6},
{"t":"1973-12-22","m1":2.3,"m2":2.2,"m3":2.1,"m4":2.2,"m5":2.6,"m6":1.9,"o":1.4},
{"t":"1973-12-24","m1":1.7,"m2":1.7,"m3":1.8,"m4":1.7,"m5":1.9,"m6":1.7,"o":3.1},
{"t":"1973-12-25","m1":3.0,"m2":2.8,"m3":2.5,"m4":2.8,"m5":2.5,"m6":2.7,"o":4.7},
{"t":"1973-12-26","m1":20.5,"m2":17.5,"m3":16,"m4":17,"m5":17,"m6":18,"o":7.5},
{"t":"1973-12-27","m1":19.5,"m2":18,"m3":17.5,"m4":17.5,"m5":18.5,"m6":18.5,"o":16.5},
{"t":"1973-12-28","m1":17,"m2":16,"m3":16.5,"m4":15.5,"m5":16,"m6":16.5,"o":17.5},
{"t":"1973-12-29","m1":10,"m2":10,"m3":11,"m4":9.5,"m5":10.5,"m6":10.5,"o":12.8},
{"t":"1973-12-31","m1":7,"m2":7,"m3":7.5,"m4":6.8,"m5":7.3,"m6":7.2,"o":5.4},
{"t":"1974-01-02","m1":5.8,"m2":5.8,"m3":6.2,"m4":5.7,"m5":6.0,"m6":5.9,"o":4.4},
{"t":"1974-01-05","m1":5.4,"m2":5.4,"m3":5.8,"m4":5.3,"m5":5.6,"m6":5.5,"o":4.1},
{"t":"1974-01-08","m1":5.0,"m2":5.0,"m3":5.3,"m4":4.9,"m5":5.2,"m6":5.0,"o":4.4},
{"t":"1974-01-10","m1":6.2,"m2":6.0,"m3":6.0,"m4":5.9,"m5":6.3,"m6":6.2,"o":4.6},
{"t":"1974-01-12","m1":5.4,"m2":5.4,"m3":5.6,"m4":5.2,"m5":5.5,"m6":5.4,"o":4.4},
{"t":"1974-01-13","m1":7.3,"m2":7.0,"m3":6.8,"m4":7.0,"m5":7.6,"m6":7.2,"o":5.0},
{"t":"1974-01-15","m1":5.8,"m2":5.8,"m3":6.0,"m4":5.6,"m5":6.0,"m6":5.8,"o":4.2},
{"t":"1974-01-17","m1":5.0,"m2":5.0,"m3":5.3,"m4":4.9,"m5":5.2,"m6":5.0,"o":4.9},
{"t":"1974-01-19","m1":4.4,"m2":4.4,"m3":4.7,"m4":4.3,"m5":4.5,"m6":4.4,"o":2.5},
{"t":"1974-01-21","m1":12.5,"m2":11.5,"m3":11,"m4":11.5,"m5":12.5,"m6":12,"o":8.3},
{"t":"1974-01-23","m1":9.5,"m2":9.5,"m3":9.5,"m4":9.2,"m5":10,"m6":9.5,"o":7.7},
{"t":"1974-01-25","m1":11,"m2":11,"m3":11,"m4":10.5,"m5":11.5,"m6":11,"o":7.5},
{"t":"1974-01-26","m1":10.3,"m2":10.3,"m3":10.5,"m4":10,"m5":10.8,"m6":10.3,"o":8.5},
{"t":"1974-01-29","m1":9,"m2":9,"m3":9.5,"m4":8.8,"m5":9.5,"m6":9.2,"o":7.2},
{"t":"1974-01-31","m1":6.2,"m2":6.3,"m3":6.8,"m4":6.0,"m5":6.5,"m6":6.4,"o":5.4},
{"t":"1974-02-03","m1":4.4,"m2":4.5,"m3":4.9,"m4":4.3,"m5":4.6,"m6":4.5,"o":2.7},
{"t":"1974-02-06","m1":3.3,"m2":3.4,"m3":3.7,"m4":3.2,"m5":3.5,"m6":3.4,"o":1.5},
{"t":"1974-02-08","m1":4.1,"m2":4.0,"m3":3.9,"m4":3.9,"m5":4.2,"m6":4.0,"o":1.3},
{"t":"1974-02-11","m1":2.8,"m2":2.9,"m3":3.1,"m4":2.7,"m5":2.9,"m6":2.8,"o":1.1},
{"t":"1974-02-13","m1":2.2,"m2":2.3,"m3":2.5,"m4":1.9,"m5":2.3,"m6":2.2,"o":1.2},
{"t":"1974-02-15","m1":2.0,"m2":2.1,"m3":2.3,"m4":1.8,"m5":2.1,"m6":2.0,"o":0.87},
{"t":"1974-02-16","m1":7.5,"m2":7.0,"m3":6.5,"m4":7.0,"m5":7.8,"m6":7.2,"o":6.7},
{"t":"1974-02-18","m1":6.0,"m2":5.9,"m3":6.0,"m4":5.8,"m5":6.2,"m6":5.9,"o":12.5},
{"t":"1974-02-21","m1":4.4,"m2":4.5,"m3":4.8,"m4":4.3,"m5":4.6,"m6":4.5,"o":5.4},
{"t":"1974-02-23","m1":5.0,"m2":5.0,"m3":5.2,"m4":4.8,"m5":5.2,"m6":5.0,"o":4.4},
{"t":"1974-02-25","m1":3.5,"m2":3.6,"m3":3.9,"m4":3.4,"m5":3.7,"m6":3.6,"o":2.8},
{"t":"1974-02-27","m1":2.6,"m2":2.7,"m3":3.0,"m4":2.5,"m5":2.8,"m6":2.7,"o":1.7},
{"t":"1974-03-02","m1":2.0,"m2":2.0,"m3":2.3,"m4":1.9,"m5":2.1,"m6":2.0,"o":1.4},
{"t":"1974-03-06","m1":1.4,"m2":1.4,"m3":1.6,"m4":1.2,"m5":1.5,"m6":1.4,"o":1.2},
{"t":"1974-03-09","m1":1.0,"m2":1.0,"m3":1.2,"m4":0.75,"m5":1.1,"m6":1.0,"o":1.0},
{"t":"1974-03-11","m1":0.86,"m2":0.86,"m3":1.0,"m4":0.48,"m5":0.95,"m6":0.86,"o":0.9},
{"t":"1974-03-13","m1":1.5,"m2":1.5,"m3":1.4,"m4":1.1,"m5":1.6,"m6":1.5,"o":2.9},
{"t":"1974-03-16","m1":1.2,"m2":1.2,"m3":1.3,"m4":1.0,"m5":1.3,"m6":1.2,"o":1.3},
{"t":"1974-03-18","m1":1.0,"m2":1.0,"m3":1.1,"m4":0.85,"m5":1.1,"m6":1.0,"o":1.7},
{"t":"1974-03-20","m1":1.6,"m2":1.6,"m3":1.5,"m4":1.4,"m5":1.7,"m6":1.6,"o":2.0},
{"t":"1974-03-23","m1":1.3,"m2":1.3,"m3":1.4,"m4":1.2,"m5":1.4,"m6":1.3,"o":1.5},
{"t":"1974-03-27","m1":2.5,"m2":2.4,"m3":2.2,"m4":2.3,"m5":2.6,"m6":2.4,"o":4.4},
{"t":"1974-03-28","m1":3.3,"m2":3.2,"m3":3.0,"m4":3.1,"m5":3.4,"m6":3.2,"o":3.5},
{"t":"1974-03-31","m1":2.7,"m2":2.7,"m3":2.8,"m4":2.6,"m5":2.8,"m6":2.7,"o":1.9},
{"t":"1974-04-02","m1":1.8,"m2":1.9,"m3":2.1,"m4":1.7,"m5":1.9,"m6":1.8,"o":5.4},
{"t":"1974-04-04","m1":3.6,"m2":3.4,"m3":3.2,"m4":3.3,"m5":4.2,"m6":3.5,"o":5.8},
{"t":"1974-04-06","m1":2.3,"m2":2.4,"m3":2.6,"m4":2.2,"m5":2.5,"m6":2.4,"o":2.9},
{"t":"1974-04-09","m1":1.3,"m2":1.4,"m3":1.6,"m4":1.2,"m5":1.4,"m6":1.3,"o":1.6},
{"t":"1974-04-11","m1":0.86,"m2":0.9,"m3":1.0,"m4":0.8,"m5":0.9,"m6":0.86,"o":1.0},
{"t":"1974-04-13","m1":0.64,"m2":0.7,"m3":0.75,"m4":0.6,"m5":0.7,"m6":0.66,"o":3.3},
{"t":"1974-04-14","m1":41,"m2":40,"m3":30,"m4":38,"m5":35,"m6":38,"o":40},
{"t":"1974-04-15","m1":62,"m2":60,"m3":55,"m4":63,"m5":72,"m6":66,"o":65},
{"t":"1974-04-16","m1":49,"m2":48,"m3":55,"m4":48,"m5":50,"m6":50,"o":55},
{"t":"1974-04-17","m1":22,"m2":23,"m3":30,"m4":22,"m5":24,"m6":24,"o":32},
{"t":"1974-04-18","m1":9.6,"m2":10,"m3":14,"m4":9.5,"m5":11,"m6":10,"o":14.7},
{"t":"1974-04-20","m1":4.5,"m2":4.6,"m3":5.5,"m4":4.3,"m5":4.8,"m6":4.6,"o":6.2},
{"t":"1974-04-21","m1":3.0,"m2":3.1,"m3":3.5,"m4":2.8,"m5":3.2,"m6":3.1,"o":4.1},
{"t":"1974-04-22","m1":2.3,"m2":2.4,"m3":2.7,"m4":2.1,"m5":2.4,"m6":2.3,"o":2.7},
{"t":"1974-04-24","m1":6.2,"m2":5.8,"m3":5.0,"m4":5.8,"m5":6.0,"m6":6.0,"o":4.4},
{"t":"1974-04-26","m1":3.6,"m2":3.6,"m3":3.8,"m4":3.4,"m5":3.7,"m6":3.6,"o":2.7},
{"t":"1974-04-29","m1":1.7,"m2":1.8,"m3":2.0,"m4":1.5,"m5":1.8,"m6":1.7,"o":1.7},
{"t":"1974-05-02","m1":1.0,"m2":1.0,"m3":1.1,"m4":0.65,"m5":1.0,"m6":0.95,"o":1.4},
{"t":"1974-05-04","m1":0.74,"m2":0.75,"m3":0.85,"m4":0.48,"m5":0.78,"m6":0.72,"o":1.7},
{"t":"1974-05-06","m1":1.3,"m2":1.3,"m3":1.3,"m4":1.0,"m5":1.3,"m6":1.3,"o":1.6},
{"t":"1974-05-09","m1":1.0,"m2":1.0,"m3":1.1,"m4":0.75,"m5":1.0,"m6":1.0,"o":1.4},
{"t":"1974-05-11","m1":0.64,"m2":0.7,"m3":0.8,"m4":0.5,"m5":0.75,"m6":0.64,"o":2.0},
{"t":"1974-05-13","m1":1.5,"m2":1.5,"m3":1.7,"m4":1.2,"m5":1.7,"m6":1.4,"o":3.1},
{"t":"1974-05-15","m1":1.1,"m2":1.1,"m3":1.2,"m4":0.9,"m5":1.2,"m6":1.0,"o":2.0},
{"t":"1974-05-18","m1":0.7,"m2":0.7,"m3":0.8,"m4":0.55,"m5":0.75,"m6":0.65,"o":1.4},
{"t":"1974-05-22","m1":0.37,"m2":0.4,"m3":0.45,"m4":0.3,"m5":0.45,"m6":0.37,"o":1.0},
{"t":"1974-05-24","m1":0.64,"m2":0.65,"m3":0.7,"m4":0.5,"m5":0.7,"m6":0.64,"o":1.9},
{"t":"1974-05-27","m1":0.55,"m2":0.55,"m3":0.65,"m4":0.45,"m5":0.6,"m6":0.55,"o":1.2},
{"t":"1974-05-30","m1":0.4,"m2":0.42,"m3":0.5,"m4":0.35,"m5":0.45,"m6":0.4,"o":1.0},
{"t":"1974-06-02","m1":0.26,"m2":0.3,"m3":0.36,"m4":0.26,"m5":0.34,"m6":0.3,"o":2.0},
{"t":"1974-06-03","m1":0.48,"m2":0.5,"m3":0.52,"m4":0.42,"m5":0.5,"m6":0.48,"o":1.4},
{"t":"1974-06-05","m1":0.42,"m2":0.43,"m3":0.45,"m4":0.38,"m5":0.42,"m6":0.42,"o":2.5},
{"t":"1974-06-06","m1":0.42,"m2":0.42,"m3":0.44,"m4":0.38,"m5":0.42,"m6":0.42,"o":4.1},
{"t":"1974-06-07","m1":2.3,"m2":2.3,"m3":2.1,"m4":2.2,"m5":2.1,"m6":1.9,"o":5.0},
{"t":"1974-06-09","m1":1.8,"m2":1.8,"m3":1.9,"m4":1.7,"m5":1.9,"m6":1.7,"o":2.9},
{"t":"1974-06-12","m1":1.2,"m2":1.2,"m3":1.3,"m4":1.1,"m5":1.3,"m6":1.2,"o":1.6},
{"t":"1974-06-15","m1":0.9,"m2":0.9,"m3":1.0,"m4":0.85,"m5":0.95,"m6":0.9,"o":1.1},
{"t":"1974-06-19","m1":0.62,"m2":0.62,"m3":0.7,"m4":0.6,"m5":0.7,"m6":0.62,"o":0.8},
{"t":"1974-06-22","m1":0.45,"m2":0.45,"m3":0.55,"m4":0.4,"m5":0.55,"m6":0.5,"o":0.56},
{"t":"1974-06-23","m1":0.16,"m2":0.16,"m3":0.45,"m4":0.3,"m5":0.5,"m6":0.4,"o":1.5},
{"t":"1974-06-24","m1":0.3,"m2":0.3,"m3":0.45,"m4":0.35,"m5":0.48,"m6":0.45,"o":3.5},
{"t":"1974-06-25","m1":0.48,"m2":0.45,"m3":0.45,"m4":0.4,"m5":0.45,"m6":0.48,"o":2.0},
{"t":"1974-06-28","m1":0.24,"m2":0.24,"m3":0.35,"m4":0.25,"m5":0.35,"m6":0.3,"o":1.3},
{"t":"1974-07-01","m1":0.12,"m2":0.12,"m3":0.18,"m4":0.15,"m5":0.3,"m6":0.21,"o":0.64},
{"t":"1974-07-05","m1":0.07,"m2":0.07,"m3":0.13,"m4":0.08,"m5":0.25,"m6":0.13,"o":0.5},
{"t":"1974-07-10","m1":0.038,"m2":0.04,"m3":0.095,"m4":0.05,"m5":0.19,"m6":0.095,"o":0.42},
{"t":"1974-07-14","m1":0.025,"m2":0.026,"m3":0.07,"m4":0.04,"m5":0.17,"m6":0.07,"o":0.4},
{"t":"1974-07-19","m1":0.0159,"m2":0.015,"m3":0.053,"m4":0.034,"m5":0.16,"m6":0.058,"o":0.36},
{"t":"1974-07-22","m1":0.008,"m2":0.0075,"m3":0.045,"m4":0.03,"m5":0.15,"m6":0.065,"o":0.4},
{"t":"1974-07-24","m1":0.0047,"m2":0.005,"m3":0.038,"m4":0.028,"m5":0.145,"m6":0.068,"o":1.7},
{"t":"1974-07-25","m1":0.04,"m2":0.035,"m3":0.035,"m4":0.027,"m5":0.14,"m6":0.07,"o":1.4},
{"t":"1974-07-28","m1":0.038,"m2":0.038,"m3":0.043,"m4":0.027,"m5":0.14,"m6":0.065,"o":1.2},
{"t":"1974-07-31","m1":0.03,"m2":0.03,"m3":0.042,"m4":0.027,"m5":0.13,"m6":0.06,"o":0.6},
{"t":"1974-08-05","m1":0.025,"m2":0.025,"m3":0.04,"m4":0.026,"m5":0.125,"m6":0.055,"o":0.49},
{"t":"1974-08-09","m1":0.019,"m2":0.019,"m3":0.037,"m4":0.025,"m5":0.12,"m6":0.05,"o":0.42},
{"t":"1974-08-13","m1":0.0089,"m2":0.009,"m3":0.033,"m4":0.024,"m5":0.11,"m6":0.046,"o":0.36},
{"t":"1974-08-15","m1":0.019,"m2":0.018,"m3":0.033,"m4":0.024,"m5":0.11,"m6":0.05,"o":1.1},
{"t":"1974-08-19","m1":0.033,"m2":0.033,"m3":0.034,"m4":0.023,"m5":0.105,"m6":0.077,"o":0.74},
{"t":"1974-08-23","m1":0.025,"m2":0.026,"m3":0.036,"m4":0.023,"m5":0.1,"m6":0.05,"o":0.49},
{"t":"1974-08-27","m1":0.016,"m2":0.016,"m3":0.042,"m4":0.025,"m5":0.097,"m6":0.043,"o":0.32},
{"t":"1974-08-29","m1":0.019,"m2":0.02,"m3":0.043,"m4":0.027,"m5":0.095,"m6":0.043,"o":0.6},
{"t":"1974-08-31","m1":0.066,"m2":0.07,"m3":0.09,"m4":0.07,"m5":0.095,"m6":0.12,"o":1.4},
{"t":"1974-09-04","m1":0.17,"m2":0.17,"m3":0.12,"m4":0.13,"m5":0.096,"m6":0.18,"o":1.7},
{"t":"1974-09-08","m1":0.14,"m2":0.14,"m3":0.12,"m4":0.16,"m5":0.1,"m6":0.14,"o":4.1},
{"t":"1974-09-10","m1":1.7,"m2":1.7,"m3":1.7,"m4":1.7,"m5":1.7,"m6":1.7,"o":5.0},
{"t":"1974-09-12","m1":1.5,"m2":1.5,"m3":1.6,"m4":1.5,"m5":1.6,"m6":1.5,"o":2.7},
{"t":"1974-09-15","m1":1.0,"m2":1.0,"m3":1.1,"m4":1.0,"m5":1.1,"m6":1.0,"o":1.1},
{"t":"1974-09-18","m1":0.7,"m2":0.7,"m3":0.8,"m4":0.7,"m5":0.75,"m6":0.7,"o":0.64},
{"t":"1974-09-21","m1":0.45,"m2":0.45,"m3":0.55,"m4":0.45,"m5":0.5,"m6":0.45,"o":0.36},
{"t":"1974-09-25","m1":0.24,"m2":0.24,"m3":0.32,"m4":0.26,"m5":0.32,"m6":0.28,"o":0.28},
{"t":"1974-09-27","m1":0.64,"m2":0.6,"m3":0.56,"m4":0.5,"m5":0.48,"m6":0.6,"o":0.64},
{"t":"1974-09-29","m1":2.0,"m2":1.9,"m3":0.56,"m4":0.8,"m5":0.5,"m6":1.0,"o":1.7},
{"t":"1974-09-30","m1":1.9,"m2":1.8,"m3":0.6,"m4":2.0,"m5":3.1,"m6":1.5,"o":1.6},
{"t":"1973-10-02","o":0.65},{"t":"1973-10-05","o":0.55},{"t":"1973-10-12","o":0.35},{"t":"1973-10-16","o":0.45},{"t":"1973-10-19","o":0.4},{"t":"1973-10-23","o":0.3},{"t":"1973-10-28","o":0.26},{"t":"1973-10-29","o":0.27},{"t":"1973-11-01","o":0.29},{"t":"1973-11-05","o":0.65},{"t":"1973-11-09","o":0.45},{"t":"1973-11-14","o":0.34},{"t":"1973-11-18","o":0.3},{"t":"1973-11-19","o":0.3},{"t":"1973-11-26","o":0.7},{"t":"1973-11-30","o":0.8},{"t":"1973-12-03","o":0.7},{"t":"1973-12-12","o":0.44},{"t":"1973-12-16","o":0.4},{"t":"1973-12-18","o":0.38},
{"t":"1974-07-03","o":0.55},{"t":"1974-07-07","o":0.45},{"t":"1974-07-12","o":0.42},{"t":"1974-07-16","o":0.38},{"t":"1974-07-17","o":0.4},{"t":"1974-07-21","o":0.38},{"t":"1974-07-26","o":1.3},{"t":"1974-07-30","o":0.8},{"t":"1974-08-02","o":0.55},{"t":"1974-08-07","o":0.45},{"t":"1974-08-11","o":0.4},{"t":"1974-08-17","o":0.8},{"t":"1974-08-21","o":0.6},{"t":"1974-08-25","o":0.42},{"t":"1974-09-02","o":1.2},{"t":"1974-09-06","o":1.6},{"t":"1974-09-16","o":0.9},{"t":"1974-09-19","o":0.5},{"t":"1974-09-23","o":0.3}
]
},
"vconcat":[
{"hconcat":[
{"width":706,"height":233,"data":{"name":"A"},
"title":{"text":"(a)","anchor":"start","frame":"group","offset":-33,"dx":6,"fontSize":15,"fontWeight":"normal","font":"Open Sans","color":"#111"},
"layer":[
{"transform":[{"fold":["m1","m2","m3","m4","m5","m6"],"as":["s","v"]},{"filter":"isValid(datum.v)"}],
"mark":{"type":"line","strokeWidth":1.3,"clip":true},
"encoding":{
"x":{"field":"t","type":"temporal","scale":{"type":"utc","domain":[{"year":1951,"month":10,"date":1,"utc":true},{"year":1952,"month":9,"date":30,"utc":true}]},"axis":{"orient":"bottom","title":null,"format":"%b %Y","tickCount":{"interval":"month","step":2},"tickSize":-5,"labelPadding":12,"labelFlush":false}},
"y":{"field":"v","type":"quantitative","scale":{"domain":[0,6],"nice":false},"axis":{"orient":"left","title":"streamflow [mm day⁻¹]","values":[0,1,2,3,4,5,6],"tickSize":-5,"labelPadding":11,"titlePadding":6}},
"color":{"field":"s","type":"nominal","scale":{"domain":["m1","m2","m3","m4","m5","m6","Obs"],"range":["#0072BD","#D95319","#EDB120","#7E2F8E","#77AC30","#4DBEEE","#FF2020"]},
"legend":{"title":null,"orient":"top-right","offset":6,"fillColor":"white","strokeColor":"#999","padding":5,"labelFontSize":13,"labelColor":"#111","symbolType":"stroke","symbolSize":700,"symbolStrokeWidth":1.5,"rowPadding":6,"labelOffset":3,
"labelExpr":"datum.label == 'Obs' ? 'Obs' : 'MA' + (datum.label == 'm1' ? '₁' : datum.label == 'm2' ? '₂' : datum.label == 'm3' ? '₃' : datum.label == 'm4' ? '₄' : datum.label == 'm5' ? '₅' : '₆')",
"encode":{"symbols":{"update":{"shape":{"signal":"datum.value === 'Obs' ? 'circle' : 'stroke'"},"size":{"signal":"datum.value === 'Obs' ? 40 : 700"},"strokeWidth":{"signal":"datum.value === 'Obs' ? 0.8 : 1.5"},"fill":{"value":"transparent"}}}}}}
}},
{"mark":{"type":"point","filled":false,"size":36,"strokeWidth":0.8,"opacity":0.75,"clip":true},
"encoding":{
"x":{"field":"t","type":"temporal","axis":{"orient":"top","labels":false,"title":null,"tickCount":{"interval":"month","step":2},"tickSize":-5}},
"y":{"field":"o","type":"quantitative","axis":{"orient":"right","labels":false,"title":null,"values":[0,1,2,3,4,5,6],"tickSize":-5}},
"color":{"datum":"Obs"}
}}
]},
{"width":706,"height":233,"data":{"name":"A"},
"title":{"text":"(b)","anchor":"start","frame":"group","offset":-33,"dx":6,"fontSize":15,"fontWeight":"normal","font":"Open Sans","color":"#111"},
"layer":[
{"transform":[{"fold":["m1","m2","m3","m4","m5","m6"],"as":["s","v"]},{"filter":"isValid(datum.v)"}],
"mark":{"type":"line","strokeWidth":1.3,"clip":true},
"encoding":{
"x":{"field":"t","type":"temporal","scale":{"type":"utc","domain":[{"year":1951,"month":10,"date":1,"utc":true},{"year":1952,"month":9,"date":30,"utc":true}]},"axis":{"orient":"bottom","title":null,"format":"%b %Y","tickCount":{"interval":"month","step":2},"tickSize":-5,"labelPadding":12,"labelFlush":false}},
"y":{"field":"v","type":"quantitative","scale":{"type":"log","domain":[0.000001,100],"nice":false},"axis":{"orient":"left","title":"streamflow [mm day⁻¹]","values":[1e-6,2e-6,3e-6,4e-6,5e-6,6e-6,7e-6,8e-6,9e-6,1e-5,2e-5,3e-5,4e-5,5e-5,6e-5,7e-5,8e-5,9e-5,0.0001,0.0002,0.0003,0.0004,0.0005,0.0006,0.0007,0.0008,0.0009,0.001,0.002,0.003,0.004,0.005,0.006,0.007,0.008,0.009,0.01,0.02,0.03,0.04,0.05,0.06,0.07,0.08,0.09,0.1,0.2,0.3,0.4,0.5,0.6,0.7,0.8,0.9,1,2,3,4,5,6,7,8,9,10,20,30,40,50,60,70,80,90,100],"labelOverlap":false,"labelExpr":"datum.value == 100 ? '10²' : datum.value == 1 ? '10⁰' : datum.value == 0.01 ? '10⁻²' : datum.value == 0.0001 ? '10⁻⁴' : datum.value == 0.000001 ? '10⁻⁶' : ''","tickSize":-4,"labelPadding":9,"titlePadding":4}},
"color":{"field":"s","type":"nominal","scale":{"domain":["m1","m2","m3","m4","m5","m6","Obs"],"range":["#0072BD","#D95319","#EDB120","#7E2F8E","#77AC30","#4DBEEE","#FF2020"]},"legend":null}
}},
{"mark":{"type":"point","filled":false,"size":36,"strokeWidth":0.8,"opacity":0.75,"clip":true},
"encoding":{
"x":{"field":"t","type":"temporal","axis":{"orient":"top","labels":false,"title":null,"tickCount":{"interval":"month","step":2},"tickSize":-5}},
"y":{"field":"o","type":"quantitative","axis":{"orient":"right","labels":false,"title":null,"values":[1e-6,2e-6,3e-6,4e-6,5e-6,6e-6,7e-6,8e-6,9e-6,1e-5,2e-5,3e-5,4e-5,5e-5,6e-5,7e-5,8e-5,9e-5,0.0001,0.0002,0.0003,0.0004,0.0005,0.0006,0.0007,0.0008,0.0009,0.001,0.002,0.003,0.004,0.005,0.006,0.007,0.008,0.009,0.01,0.02,0.03,0.04,0.05,0.06,0.07,0.08,0.09,0.1,0.2,0.3,0.4,0.5,0.6,0.7,0.8,0.9,1,2,3,4,5,6,7,8,9,10,20,30,40,50,60,70,80,90,100],"tickSize":-4}},
"color":{"datum":"Obs","legend":null}
}}
]}
],"spacing":1,"resolve":{"scale":{"color":"independent"}}},
{"hconcat":[
{"width":706,"height":233,"data":{"name":"B"},
"title":{"text":"(c)","anchor":"start","frame":"group","offset":-33,"dx":6,"fontSize":15,"fontWeight":"normal","font":"Open Sans","color":"#111"},
"layer":[
{"transform":[{"fold":["m1","m2","m3","m4","m5","m6"],"as":["s","v"]},{"filter":"isValid(datum.v)"}],
"mark":{"type":"line","strokeWidth":1.3,"clip":true},
"encoding":{
"x":{"field":"t","type":"temporal","scale":{"type":"utc","domain":[{"year":1952,"month":10,"date":1,"utc":true},{"year":1953,"month":9,"date":30,"utc":true}]},"axis":{"orient":"bottom","title":null,"format":"%b %Y","tickCount":{"interval":"month","step":2},"tickSize":-5,"labelPadding":12,"labelFlush":false}},
"y":{"field":"v","type":"quantitative","scale":{"domain":[0,30],"nice":false},"axis":{"orient":"left","title":"streamflow [mm day⁻¹]","values":[0,5,10,15,20,25,30],"tickSize":-5,"labelPadding":11,"titlePadding":6}},
"color":{"field":"s","type":"nominal","scale":{"domain":["m1","m2","m3","m4","m5","m6","Obs"],"range":["#0072BD","#D95319","#EDB120","#7E2F8E","#77AC30","#4DBEEE","#FF2020"]},"legend":null}
}},
{"mark":{"type":"point","filled":false,"size":36,"strokeWidth":0.8,"opacity":0.75,"clip":true},
"encoding":{
"x":{"field":"t","type":"temporal","axis":{"orient":"top","labels":false,"title":null,"tickCount":{"interval":"month","step":2},"tickSize":-5}},
"y":{"field":"o","type":"quantitative","axis":{"orient":"right","labels":false,"title":null,"values":[0,5,10,15,20,25,30],"tickSize":-5}},
"color":{"datum":"Obs","legend":null}
}}
]},
{"width":706,"height":233,"data":{"name":"B"},
"title":{"text":"(d)","anchor":"start","frame":"group","offset":-33,"dx":6,"fontSize":15,"fontWeight":"normal","font":"Open Sans","color":"#111"},
"layer":[
{"transform":[{"fold":["m1","m2","m3","m4","m5","m6"],"as":["s","v"]},{"filter":"isValid(datum.v)"}],
"mark":{"type":"line","strokeWidth":1.3,"clip":true},
"encoding":{
"x":{"field":"t","type":"temporal","scale":{"type":"utc","domain":[{"year":1952,"month":10,"date":1,"utc":true},{"year":1953,"month":9,"date":30,"utc":true}]},"axis":{"orient":"bottom","title":null,"format":"%b %Y","tickCount":{"interval":"month","step":2},"tickSize":-5,"labelPadding":12,"labelFlush":false}},
"y":{"field":"v","type":"quantitative","scale":{"type":"log","domain":[0.000001,100],"nice":false},"axis":{"orient":"left","title":"streamflow [mm day⁻¹]","values":[1e-6,2e-6,3e-6,4e-6,5e-6,6e-6,7e-6,8e-6,9e-6,1e-5,2e-5,3e-5,4e-5,5e-5,6e-5,7e-5,8e-5,9e-5,0.0001,0.0002,0.0003,0.0004,0.0005,0.0006,0.0007,0.0008,0.0009,0.001,0.002,0.003,0.004,0.005,0.006,0.007,0.008,0.009,0.01,0.02,0.03,0.04,0.05,0.06,0.07,0.08,0.09,0.1,0.2,0.3,0.4,0.5,0.6,0.7,0.8,0.9,1,2,3,4,5,6,7,8,9,10,20,30,40,50,60,70,80,90,100],"labelOverlap":false,"labelExpr":"datum.value == 100 ? '10²' : datum.value == 1 ? '10⁰' : datum.value == 0.01 ? '10⁻²' : datum.value == 0.0001 ? '10⁻⁴' : datum.value == 0.000001 ? '10⁻⁶' : ''","tickSize":-4,"labelPadding":9,"titlePadding":4}},
"color":{"field":"s","type":"nominal","scale":{"domain":["m1","m2","m3","m4","m5","m6","Obs"],"range":["#0072BD","#D95319","#EDB120","#7E2F8E","#77AC30","#4DBEEE","#FF2020"]},"legend":null}
}},
{"mark":{"type":"point","filled":false,"size":36,"strokeWidth":0.8,"opacity":0.75,"clip":true},
"encoding":{
"x":{"field":"t","type":"temporal","axis":{"orient":"top","labels":false,"title":null,"tickCount":{"interval":"month","step":2},"tickSize":-5}},
"y":{"field":"o","type":"quantitative","axis":{"orient":"right","labels":false,"title":null,"values":[1e-6,2e-6,3e-6,4e-6,5e-6,6e-6,7e-6,8e-6,9e-6,1e-5,2e-5,3e-5,4e-5,5e-5,6e-5,7e-5,8e-5,9e-5,0.0001,0.0002,0.0003,0.0004,0.0005,0.0006,0.0007,0.0008,0.0009,0.001,0.002,0.003,0.004,0.005,0.006,0.007,0.008,0.009,0.01,0.02,0.03,0.04,0.05,0.06,0.07,0.08,0.09,0.1,0.2,0.3,0.4,0.5,0.6,0.7,0.8,0.9,1,2,3,4,5,6,7,8,9,10,20,30,40,50,60,70,80,90,100],"tickSize":-4}},
"color":{"datum":"Obs","legend":null}
}}
]}
],"spacing":1,"resolve":{"scale":{"color":"independent"}}},
{"hconcat":[
{"width":706,"height":233,"data":{"name":"C"},
"title":{"text":"(e)","anchor":"start","frame":"group","offset":-33,"dx":6,"fontSize":15,"fontWeight":"normal","font":"Open Sans","color":"#111"},
"layer":[
{"transform":[{"fold":["m1","m2","m3","m4","m5","m6"],"as":["s","v"]},{"filter":"isValid(datum.v)"}],
"mark":{"type":"line","strokeWidth":1.3,"clip":true},
"encoding":{
"x":{"field":"t","type":"temporal","scale":{"type":"utc","domain":[{"year":1973,"month":10,"date":1,"utc":true},{"year":1974,"month":9,"date":30,"utc":true}]},"axis":{"orient":"bottom","title":null,"format":"%b %Y","tickCount":{"interval":"month","step":2},"tickSize":-5,"labelPadding":12,"labelFlush":false}},
"y":{"field":"v","type":"quantitative","scale":{"domain":[0,80],"nice":false},"axis":{"orient":"left","title":"streamflow [mm day⁻¹]","values":[0,20,40,60,80],"tickSize":-5,"labelPadding":11,"titlePadding":6}},
"color":{"field":"s","type":"nominal","scale":{"domain":["m1","m2","m3","m4","m5","m6","Obs"],"range":["#0072BD","#D95319","#EDB120","#7E2F8E","#77AC30","#4DBEEE","#FF2020"]},"legend":null}
}},
{"mark":{"type":"point","filled":false,"size":36,"strokeWidth":0.8,"opacity":0.75,"clip":true},
"encoding":{
"x":{"field":"t","type":"temporal","axis":{"orient":"top","labels":false,"title":null,"tickCount":{"interval":"month","step":2},"tickSize":-5}},
"y":{"field":"o","type":"quantitative","axis":{"orient":"right","labels":false,"title":null,"values":[0,20,40,60,80],"tickSize":-5}},
"color":{"datum":"Obs","legend":null}
}}
]},
{"width":706,"height":233,"data":{"name":"C"},
"title":{"text":"(f)","anchor":"start","frame":"group","offset":-33,"dx":6,"fontSize":15,"fontWeight":"normal","font":"Open Sans","color":"#111"},
"layer":[
{"transform":[{"fold":["m1","m2","m3","m4","m5","m6"],"as":["s","v"]},{"filter":"isValid(datum.v)"}],
"mark":{"type":"line","strokeWidth":1.3,"clip":true},
"encoding":{
"x":{"field":"t","type":"temporal","scale":{"type":"utc","domain":[{"year":1973,"month":10,"date":1,"utc":true},{"year":1974,"month":9,"date":30,"utc":true}]},"axis":{"orient":"bottom","title":null,"format":"%b %Y","tickCount":{"interval":"month","step":2},"tickSize":-5,"labelPadding":12,"labelFlush":false}},
"y":{"field":"v","type":"quantitative","scale":{"type":"log","domain":[0.0048,100],"nice":false},"axis":{"orient":"left","title":"streamflow [mm day⁻¹]","values":[0.005,0.006,0.007,0.008,0.009,0.01,0.02,0.03,0.04,0.05,0.06,0.07,0.08,0.09,0.1,0.2,0.3,0.4,0.5,0.6,0.7,0.8,0.9,1,2,3,4,5,6,7,8,9,10,20,30,40,50,60,70,80,90,100],"labelOverlap":false,"labelExpr":"datum.value == 100 ? '10²' : datum.value == 1 ? '10⁰' : datum.value == 0.01 ? '10⁻²' : ''","tickSize":-4,"labelPadding":9,"titlePadding":4}},
"color":{"field":"s","type":"nominal","scale":{"domain":["m1","m2","m3","m4","m5","m6","Obs"],"range":["#0072BD","#D95319","#EDB120","#7E2F8E","#77AC30","#4DBEEE","#FF2020"]},"legend":null}
}},
{"mark":{"type":"point","filled":false,"size":36,"strokeWidth":0.8,"opacity":0.75,"clip":true},
"encoding":{
"x":{"field":"t","type":"temporal","axis":{"orient":"top","labels":false,"title":null,"tickCount":{"interval":"month","step":2},"tickSize":-5}},
"y":{"field":"o","type":"quantitative","axis":{"orient":"right","labels":false,"title":null,"values":[0.005,0.006,0.007,0.008,0.009,0.01,0.02,0.03,0.04,0.05,0.06,0.07,0.08,0.09,0.1,0.2,0.3,0.4,0.5,0.6,0.7,0.8,0.9,1,2,3,4,5,6,7,8,9,10,20,30,40,50,60,70,80,90,100],"tickSize":-4}},
"color":{"datum":"Obs","legend":null}
}}
]}
],"spacing":1,"resolve":{"scale":{"color":"independent"}}}
],
"config":{
"font":"Liberation Sans",
"view":{"stroke":null},
"axis":{"grid":false,"domainColor":"#777","tickColor":"#777","labelColor":"#222","titleColor":"#222","labelFontSize":15,"titleFontSize":15,"titleFontWeight":"normal","labelFont":"Liberation Sans","titleFont":"Liberation Sans"},
"legend":{"labelFont":"Liberation Sans"}
}
}
